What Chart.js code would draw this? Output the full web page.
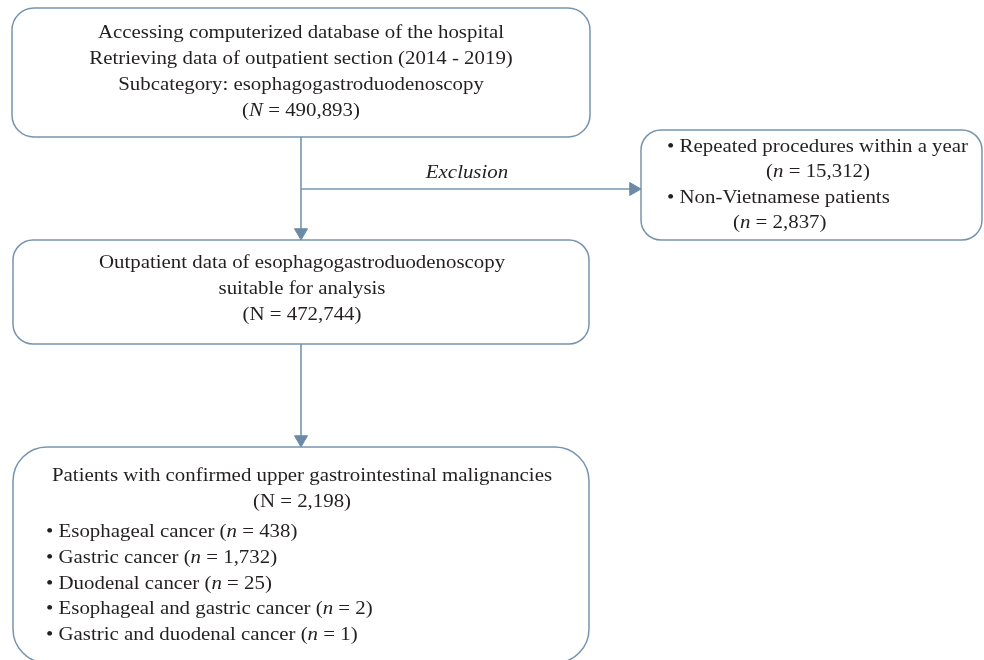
<!DOCTYPE html>
<html>
<head>
<meta charset="utf-8">
<script src="https://cdn.jsdelivr.net/npm/chart.js@4"></script>
<style>
  html, body { margin: 0; padding: 0; background: #ffffff; }
  #wrap { width: 984px; height: 660px; position: relative; }
</style>
</head>
<body>
<div id="wrap"><canvas id="flow"></canvas></div>
<script>
// flow texts; *...* marks italic parts
const screenedLines = [
  "Accessing computerized database of the hospital",
  "Retrieving data of outpatient section (2014 - 2019)",
  "Subcategory: esophagogastroduodenoscopy",
  "(*N* = 490,893)"
];
const excludedLines = [
  "• Repeated procedures within a year",
  "(*n* = 15,312)",
  "• Non-Vietnamese patients",
  "(*n* = 2,837)"
];
const analysedLines = [
  "Outpatient data of esophagogastroduodenoscopy",
  "suitable for analysis",
  "(N = 472,744)"
];
const cancerHeader = [
  "Patients with confirmed upper gastrointestinal malignancies",
  "(N = 2,198)"
];
const cancerLabels = [
  "Esophageal cancer",
  "Gastric cancer",
  "Duodenal cancer",
  "Esophageal and gastric cancer",
  "Gastric and duodenal cancer"
];
const cancerCounts = ["438", "1,732", "25", "2", "1"];
const exclusionLabel = "Exclusion";

// layout in chart units (x 0..984, y 0..660 top-down)
const LINE = "#7794af";
const HEAD_FILL = "#6c8aa7";
const INK = "#231f20";
const FONT_SIZE = 19.5;
const STRETCH = 1.07; // Liberation Serif is narrower than the original face
const FONT_FAMILY = '"Liberation Serif", "Times New Roman", serif';
const HEAD = 7.5;

const boxes = [
  { x0: 12, x1: 590, y0: 8, y1: 137, r: 22 },
  { x0: 641, x1: 982, y0: 130, y1: 240, r: 20 },
  { x0: 13, x1: 589, y0: 240, y1: 344, r: 20 },
  { x0: 13, x1: 589, y0: 447, y1: 663, r: 34 }
];

const cancerLines = cancerLabels.map((label, i) => `• ${label} (*n* = ${cancerCounts[i]})`);

const textBlocks = [
  { lines: screenedLines, align: "center", x: 301, y: 38, step: 26 },
  { lines: [excludedLines[0]], align: "left", x: 667, y: 152, step: 25 },
  { lines: [excludedLines[1]], align: "center", x: 818, y: 177, step: 25 },
  { lines: [excludedLines[2]], align: "left", x: 667, y: 203, step: 25 },
  { lines: [excludedLines[3]], align: "left", x: 733, y: 228, step: 25 },
  { lines: analysedLines, align: "center", x: 302, y: 268, step: 26 },
  { lines: cancerHeader, align: "center", x: 302, y: 481, step: 26 },
  { lines: cancerLines, align: "left", x: 46, y: 537, step: 25.8 }
];

function arrow(fromX, fromY, toX, toY, rotation) {
  const dx = Math.sign(toX - fromX) * HEAD;
  const dy = Math.sign(toY - fromY) * HEAD;
  return {
    type: "scatter",
    showLine: true,
    data: [{ x: fromX, y: fromY }, { x: toX - dx, y: toY - dy }],
    borderColor: LINE,
    borderWidth: 1.6,
    pointRadius: [0, HEAD],
    pointStyle: "triangle",
    rotation: [0, rotation],
    pointBackgroundColor: HEAD_FILL,
    pointBorderColor: HEAD_FILL,
    pointBorderWidth: 1
  };
}

function roundRect(ctx, x0, y0, x1, y1, r) {
  ctx.beginPath();
  ctx.moveTo(x0 + r, y0);
  ctx.arcTo(x1, y0, x1, y1, r);
  ctx.arcTo(x1, y1, x0, y1, r);
  ctx.arcTo(x0, y1, x0, y0, r);
  ctx.arcTo(x0, y0, x1, y0, r);
  ctx.closePath();
}

function fontFor(italic) {
  return `${italic ? "italic " : ""}${FONT_SIZE}px ${FONT_FAMILY}`;
}

function drawRich(ctx, line, x, y, align) {
  const parts = line.split("*").map((t, i) => ({ t, italic: i % 2 === 1 })).filter((p) => p.t);
  let width = 0;
  parts.forEach((p) => {
    ctx.font = fontFor(p.italic);
    p.w = ctx.measureText(p.t).width * STRETCH;
    width += p.w;
  });
  let cx = align === "center" ? x - width / 2 : x;
  parts.forEach((p) => {
    ctx.font = fontFor(p.italic);
    ctx.save();
    ctx.translate(cx, y);
    ctx.scale(STRETCH, 1);
    ctx.fillText(p.t, 0, 0);
    ctx.restore();
    cx += p.w;
  });
}

const flowPlugin = {
  id: "flowBoxes",
  beforeDatasetsDraw(chart) {
    const { ctx, scales } = chart;
    const sx = scales.x;
    const sy = scales.y;
    ctx.save();
    ctx.strokeStyle = LINE;
    ctx.lineWidth = 1.5;
    boxes.forEach((b) => {
      roundRect(
        ctx,
        sx.getPixelForValue(b.x0),
        sy.getPixelForValue(b.y0),
        sx.getPixelForValue(b.x1),
        sy.getPixelForValue(b.y1),
        b.r
      );
      ctx.stroke();
    });
    ctx.restore();
  },
  afterDraw(chart) {
    const { ctx, scales } = chart;
    const sx = scales.x;
    const sy = scales.y;
    ctx.save();
    ctx.fillStyle = INK;
    ctx.textBaseline = "alphabetic";
    ctx.textAlign = "left";
    textBlocks.forEach((block) => {
      block.lines.forEach((line, i) => {
        drawRich(ctx, line, sx.getPixelForValue(block.x), sy.getPixelForValue(block.y + i * block.step), block.align);
      });
    });
    drawRich(ctx, `*${exclusionLabel}*`, sx.getPixelForValue(467), sy.getPixelForValue(178), "center");
    ctx.restore();
  }
};

new Chart(document.getElementById("flow"), {
  type: "scatter",
  data: {
    datasets: [
      arrow(301, 137, 301, 240, 180),
      arrow(301, 189, 641, 189, 90),
      arrow(301, 344, 301, 447, 180)
    ]
  },
  options: {
    responsive: true,
    maintainAspectRatio: false,
    animation: false,
    events: [],
    layout: { padding: 0, autoPadding: false },
    clip: false,
    plugins: {
      legend: { display: false },
      tooltip: { enabled: false }
    },
    scales: {
      x: { type: "linear", min: 0, max: 984, display: false },
      y: { type: "linear", min: 0, max: 660, reverse: true, display: false }
    }
  },
  plugins: [flowPlugin]
});
</script>
</body>
</html>
